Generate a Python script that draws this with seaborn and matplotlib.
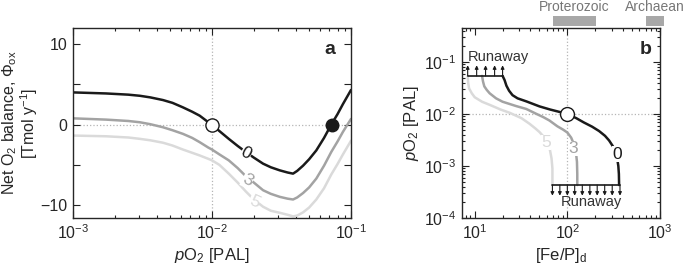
import numpy as np
import pandas as pd
import matplotlib
matplotlib.use("Agg")
import matplotlib.pyplot as plt
import matplotlib.ticker as mticker
import seaborn as sns

# ---------- data: panel a (net O2 balance vs pO2) ----------
po2_a = [1e-3, 1.73e-3, 2.5e-3, 3.03e-3, 3.6e-3, 4.44e-3, 5.2e-3, 6.18e-3, 7.2e-3,
         8.15e-3, 9.4e-3, 1e-2, 1.13e-2, 1.32e-2, 1.53e-2, 1.75e-2, 2.0e-2, 2.33e-2,
         2.65e-2, 3.07e-2, 3.5e-2, 3.83e-2, 4.1e-2, 4.52e-2, 5.0e-2, 5.63e-2, 6.4e-2,
         7.21e-2, 8.0e-2, 8.75e-2, 1e-1]
phi_0 = [4.0, 3.87, 3.72, 3.58, 3.38, 3.05, 2.7, 2.14, 1.6,
         1.11, 0.3, 0.0, -0.8, -1.77, -2.65, -3.4, -4.1, -4.85,
         -5.3, -5.68, -5.95, -6.09, -5.75, -5.1, -4.3, -3.2, -1.65,
         0.0, 1.3, 2.55, 4.3]
phi_3 = [0.78, 0.62, 0.45, 0.29, 0.05, -0.33, -0.7, -1.15, -1.65,
         -2.18, -2.85, -3.1, -3.7, -4.44, -5.4, -6.4, -7.2, -8.15,
         -8.6, -8.97, -9.2, -9.3, -9.05, -8.5, -7.8, -6.7, -5.1,
         -3.4, -2.1, -0.9, 0.7]
phi_5 = [-1.36, -1.45, -1.6, -1.77, -1.95, -2.25, -2.6, -3.1, -3.5,
         -3.83, -4.25, -4.44, -5.0, -6.09, -7.2, -8.3, -9.3, -10.2,
         -10.7, -10.95, -11.2, -11.4, -11.3, -10.9, -10.3, -9.3, -7.9,
         -6.2, -4.9, -3.7, -2.0]

# steady states in panel a
unstable_a = (1e-2, 0.0)
stable_a = (7.3e-2, 0.0)

# ---------- data: panel b (pO2 vs [Fe/P]d) ----------
fep_0 = [20, 21, 22, 23.5, 25.6, 29, 36, 50, 65, 80, 100, 125, 150, 185, 220,
         255, 282, 310, 330, 345, 355, 360, 362]
po2_b0 = [0.054, 0.045, 0.035, 0.028, 0.023, 0.020, 0.0175, 0.0140, 0.0122,
          0.0111, 0.0100, 0.0083, 0.0069, 0.0057, 0.0047, 0.0038, 0.0031,
          0.0024, 0.0019, 0.0014, 0.0010, 0.0007, 0.00043]
fep_3 = [12, 12.3, 12.7, 13.5, 14.5, 17, 20, 28, 36, 45, 55, 64, 78, 90, 100,
         110, 118, 124, 127, 128, 128]
po2_b3 = [0.054, 0.042, 0.034, 0.029, 0.025, 0.020, 0.0172, 0.0142, 0.0125,
          0.0103, 0.0087, 0.0075, 0.0058, 0.0050, 0.0044, 0.0035, 0.0026,
          0.0018, 0.0012, 0.0007, 0.00043]
fep_5 = [8.4, 8.5, 8.7, 9.3, 10, 12, 14.5, 19, 24, 32, 39, 45, 50, 56, 61, 65,
         67.5, 69, 69]
po2_b5 = [0.054, 0.040, 0.031, 0.025, 0.021, 0.0172, 0.0150, 0.0122, 0.0105,
          0.0083, 0.0065, 0.0053, 0.0045, 0.0036, 0.0028, 0.0020, 0.0014,
          0.0009, 0.00043]

unstable_b = (100, 0.01)

# runaway thresholds
top_run_x = [8.4, 20]
top_run_y = 0.054
top_arrow_x = [8.4, 10.5, 13.1, 16.4, 20]
bot_run_x = [69, 370]
bot_run_y = 0.00043
bot_arrow_x = [69, 83, 100, 120, 145, 175, 210, 253, 305, 370]

# geological ranges of [Fe/P]d
eons = ["Proterozoic", "Archaean"]
eon_lo = [70, 700]
eon_hi = [205, 1100]

# ---------- style ----------
sns.set_style("ticks")
plt.rcParams["font.family"] = ["Liberation Sans", "DejaVu Sans"]
plt.rcParams["mathtext.fontset"] = "custom"
plt.rcParams["mathtext.rm"] = "Liberation Sans"
plt.rcParams["mathtext.it"] = "Liberation Sans:italic"
plt.rcParams["mathtext.bf"] = "Liberation Sans:bold"
plt.rcParams["font.size"] = 12
plt.rcParams["axes.linewidth"] = 1.0

c_black = "#1a1a1a"
c_gray = "#a3a3a3"
c_light = "#dadada"

fig = plt.figure(figsize=(6.85, 2.69), dpi=100)
ax_a = fig.add_axes([0.1066, 0.1896, 0.4058, 0.7063])
ax_b = fig.add_axes([0.6745, 0.1896, 0.289, 0.7063])

ax_b.set_yscale("log")
for ax in (ax_a, ax_b):
    ax.set_xscale("log")
    ax.xaxis.set_minor_locator(mticker.LogLocator(base=10, subs=np.arange(2, 10), numticks=20))
    ax.xaxis.set_minor_formatter(mticker.NullFormatter())
    ax.tick_params(which="both", direction="in", top=True, right=True, labelsize=11.5,
                   width=0.8, color="#222222")
    ax.tick_params(which="major", length=5, pad=4)
    ax.tick_params(which="minor", length=2.5)
ax_b.yaxis.set_minor_locator(mticker.LogLocator(base=10, subs=np.arange(2, 10), numticks=20))
ax_b.yaxis.set_minor_formatter(mticker.NullFormatter())

# ---------- panel a ----------
ax_a.axvline(1e-2, color="#b5b5b5", ls=":", lw=0.9, zorder=0)
ax_a.axhline(0, color="#b5b5b5", ls=":", lw=0.9, zorder=0)
for y, c in [(phi_5, c_light), (phi_3, c_gray), (phi_0, c_black)]:
    sns.lineplot(x=po2_a, y=y, ax=ax_a, color=c, lw=1.8, sort=False, estimator=None)
ax_a.plot(*unstable_a, "o", ms=9.5, mfc="white", mec=c_black, mew=1.0, zorder=5)
ax_a.plot(*stable_a, "o", ms=9, mfc=c_black, mec=c_black, zorder=5)

bb = dict(facecolor="white", edgecolor="none", pad=0.2)
ax_a.text(0.0176, -3.6, "0", color=c_black, fontsize=12.5, rotation=-28, ha="center", va="center", bbox=bb, zorder=4)
ax_a.text(0.018, -6.9, "3", color=c_gray, fontsize=12.5, rotation=-28, ha="center", va="center", bbox=bb, zorder=4)
ax_a.text(0.0201, -9.6, "5", color=c_light, fontsize=12.5, rotation=-25, ha="center", va="center", bbox=bb, zorder=4)

ax_a.set_xlim(1e-3, 1e-1)
ax_a.set_ylim(-11.6, 12)
ax_a.set_yticks([-10, -5, 0, 5, 10], labels=["\u221210", "", "0", "", "10"])
ax_a.set_xlabel(r"$p$O$_2$ [PAL]", labelpad=3)
ax_a.set_ylabel("Net O$_2$ balance, $\\Phi_{\\rm ox}$\n[Tmol y$^{-1}$]", fontsize=11.5, linespacing=1.0)
ax_a.yaxis.set_label_coords(-0.118, 0.5)
ax_a.text(0.925, 0.885, "a", transform=ax_a.transAxes, fontsize=14, fontweight="bold", ha="center", va="center")

# ---------- panel b ----------
ax_b.axvline(100, color="#b5b5b5", ls=":", lw=0.9, zorder=0)
ax_b.axhline(0.01, color="#b5b5b5", ls=":", lw=0.9, zorder=0)
for xx, yy, c in [(fep_5, po2_b5, c_light), (fep_3, po2_b3, c_gray), (fep_0, po2_b0, c_black)]:
    sns.lineplot(x=xx, y=yy, ax=ax_b, color=c, lw=1.8, sort=False, estimator=None)
ax_b.plot(*unstable_b, "o", ms=10, mfc="white", mec=c_black, mew=1.0, zorder=5)

ax_b.plot(top_run_x, [top_run_y] * 2, color=c_black, lw=1.2)
ax_b.plot(bot_run_x, [bot_run_y] * 2, color=c_black, lw=1.2)
ap = dict(arrowstyle="-|>", lw=0.8, color=c_black, mutation_scale=5, shrinkA=0, shrinkB=0)
for x in top_arrow_x:
    ax_b.annotate("", xy=(x, top_run_y * 1.6), xytext=(x, top_run_y), arrowprops=ap)
for x in bot_arrow_x:
    ax_b.annotate("", xy=(x, bot_run_y / 1.6), xytext=(x, bot_run_y), arrowprops=ap)
ax_b.text(8.4, 0.125, "Runaway", fontsize=10.5, color="#333333", ha="left", va="center")
ax_b.text(385, 2.0e-4, "Runaway", fontsize=10.5, color="#333333", ha="right", va="center")

bb2 = dict(facecolor="white", edgecolor="none", pad=0.1)
ax_b.text(342, 0.0017, "0", color=c_black, fontsize=12.5, ha="center", va="center", bbox=bb2, zorder=4)
ax_b.text(116, 0.0022, "3", color=c_gray, fontsize=12.5, ha="center", va="center", bbox=bb2, zorder=4)
ax_b.text(59, 0.0028, "5", color=c_light, fontsize=12.5, ha="center", va="center", bbox=bb2, zorder=4)

for name, lo, hi in zip(eons, eon_lo, eon_hi):
    ax_b.fill_between([lo, hi], [1.01, 1.01], [1.062, 1.062], color="#a8a8a8", lw=0,
                      transform=ax_b.get_xaxis_transform(), clip_on=False)
    xc = np.sqrt(lo * hi)
    ax_b.text(xc, 1.112, name, transform=ax_b.get_xaxis_transform(), fontsize=10,
              color="#777777", ha="center", va="center", clip_on=False)

ax_b.set_xlim(7.3, 1000)
ax_b.set_ylim(1e-4, 0.45)
ax_b.set_xlabel(r"[Fe/P]$_{\rm d}$", labelpad=3)
ax_b.set_ylabel(r"$p$O$_2$ [PAL]", labelpad=2)
ax_b.text(0.925, 0.885, "b", transform=ax_b.transAxes, fontsize=14, fontweight="bold", ha="center", va="center")

fig.savefig("out.png", dpi=100)
